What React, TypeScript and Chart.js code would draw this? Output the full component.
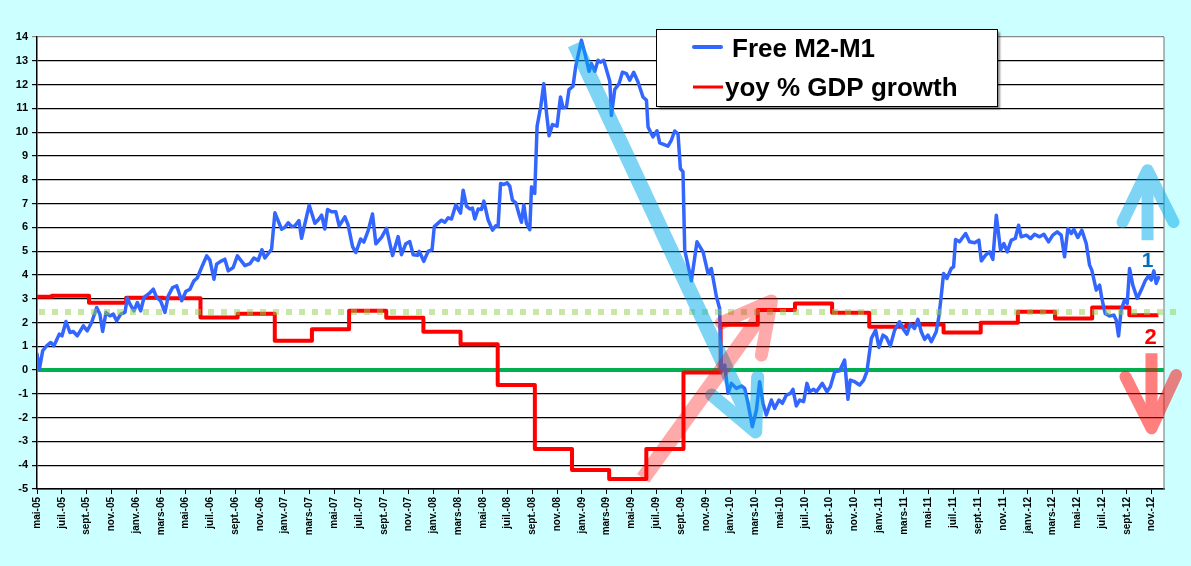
import React, { useEffect, useRef } from "react";
import { Chart, registerables } from "chart.js";

Chart.register(...registerables);

const FONT = "'Liberation Sans', Arial, sans-serif";

// X tick labels: one every two months, starting May 2005 (month offset 0)
const tickLabels = [
  "mai-05", "juil.-05", "sept.-05", "nov.-05",
  "janv.-06", "mars-06", "mai-06", "juil.-06", "sept.-06", "nov.-06",
  "janv.-07", "mars-07", "mai-07", "juil.-07", "sept.-07", "nov.-07",
  "janv.-08", "mars-08", "mai-08", "juil.-08", "sept.-08", "nov.-08",
  "janv.-09", "mars-09", "mai-09", "juil.-09", "sept.-09", "nov.-09",
  "janv.-10", "mars-10", "mai-10", "juil.-10", "sept.-10", "nov.-10",
  "janv.-11", "mars-11", "mai-11", "juil.-11", "sept.-11", "nov.-11",
  "janv.-12", "mars-12", "mai-12", "juil.-12", "sept.-12", "nov.-12",
];

// Free M2-M1: month offset from May 2005, and value
const m2m1Months = [
  0, 0.19, 0.46, 0.78, 1.11, 1.37, 1.8, 2.02, 2.34, 2.66,
  2.93, 3.25, 3.74, 4.06, 4.41, 4.82, 5.08, 5.3, 5.57, 5.89,
  6.16, 6.43, 6.76, 7.1, 7.29, 7.51, 7.83, 8.1, 8.37, 8.64,
  9.06, 9.39, 9.66, 9.98, 10.33, 10.6, 10.95, 11.28, 11.68, 12.03,
  12.35, 12.67, 12.94, 13.29, 13.7, 13.96, 14.29, 14.5, 14.83, 15.17,
  15.44, 15.84, 16.18, 16.79, 17.19, 17.51, 17.86, 18.16, 18.4, 18.94,
  19.21, 19.75, 20.02, 20.28, 20.56, 20.82, 21.15, 21.36, 21.98, 22.44,
  22.7, 22.98, 23.24, 23.46, 23.79, 24.13, 24.4, 24.86, 25.12, 25.48,
  25.75, 26.13, 26.39, 26.74, 27.09, 27.36, 27.82, 28.22, 28.71, 29.16,
  29.43, 29.78, 30.1, 30.37, 30.73, 30.86, 31.23, 31.58, 31.9, 32.08,
  32.66, 32.93, 33.2, 33.47, 33.82, 34.2, 34.41, 34.68, 34.95, 35.16,
  35.35, 35.62, 35.89, 36.08, 36.42, 36.78, 37.05, 37.23, 37.43, 37.69,
  37.96, 38.17, 38.39, 38.66, 38.93, 39.12, 39.31, 39.52, 39.79, 39.93,
  40.19, 40.38, 40.68, 40.92, 41.14, 41.35, 41.62, 41.99, 42.27, 42.48,
  42.75, 42.96, 43.28, 43.5, 43.96, 44.23, 44.58, 44.77, 45.04, 45.3,
  45.5, 45.76, 46.25, 46.38, 46.65, 47.0, 47.27, 47.59, 47.86, 48.18,
  48.53, 48.93, 49.21, 49.34, 49.74, 50.06, 50.28, 50.95, 51.22, 51.49,
  51.76, 51.95, 52.16, 52.3, 52.84, 53.29, 53.78, 54.18, 54.45, 54.86,
  55.12, 55.18, 55.26, 55.53, 55.8, 56.07, 56.47, 56.88, 57.14, 57.41,
  57.76, 58.09, 58.35, 58.62, 58.89, 59.3, 59.56, 59.91, 60.18, 60.51,
  60.83, 61.04, 61.31, 61.58, 61.9, 62.17, 62.39, 62.71, 62.93, 63.41,
  63.78, 64.06, 64.41, 64.81, 65.21, 65.48, 65.67, 66.02, 66.42, 66.75,
  67.01, 67.37, 67.72, 67.98, 68.31, 68.58, 68.9, 69.25, 69.65, 69.92,
  70.24, 70.51, 70.86, 71.13, 71.4, 71.67, 71.94, 72.21, 72.61, 72.82,
  73.02, 73.2, 73.47, 73.82, 74.01, 74.17, 74.49, 74.98, 75.3, 75.71,
  76.05, 76.25, 76.59, 76.92, 77.18, 77.46, 77.8, 78.07, 78.34, 78.67,
  78.99, 79.26, 79.47, 79.88, 80.23, 80.55, 80.95, 81.3, 81.68, 82.02,
  82.38, 82.7, 82.97, 83.24, 83.51, 83.72, 84.04, 84.37, 84.72, 84.99,
  85.17, 85.53, 85.8, 85.98, 86.25, 86.6, 86.95, 87.14, 87.33, 87.54,
  87.81, 88.03, 88.22, 88.48, 88.84, 89.16, 89.48, 89.75, 89.97, 90.18,
  90.37, 90.56,
];
const m2m1Values = [
  0.67, 0.04, 0.81, 1.02, 1.16, 1.02, 1.51, 1.44, 2.04, 1.58,
  1.62, 1.44, 1.86, 1.65, 2.0, 2.63, 2.35, 1.62, 2.42, 2.28,
  2.35, 2.07, 2.35, 2.42, 3.03, 2.77, 2.49, 2.84, 2.49, 3.05,
  3.22, 3.4, 3.05, 2.91, 2.42, 3.12, 3.47, 3.54, 2.91, 3.31,
  3.4, 3.75, 3.87, 4.31, 4.8, 4.62, 3.82, 4.45, 4.57, 4.66,
  4.17, 4.31, 4.8, 4.39, 4.47, 4.71, 4.61, 5.06, 4.71, 5.08,
  6.61, 5.92, 6.0, 6.19, 6.03, 6.06, 6.28, 5.54, 6.93, 6.17,
  6.31, 6.51, 5.93, 6.75, 6.65, 6.65, 6.06, 6.44, 6.1, 5.19,
  4.94, 5.51, 5.38, 5.86, 6.56, 5.31, 5.58, 5.96, 4.81, 5.61,
  4.85, 5.31, 5.4, 4.85, 4.82, 4.99, 4.57, 4.99, 5.06, 6.03,
  6.3, 6.21, 6.4, 6.35, 6.95, 6.6, 7.56, 6.89, 6.77, 6.81,
  6.35, 6.77, 6.75, 7.1, 6.32, 5.88, 6.07, 6.04, 7.84, 7.8,
  7.87, 7.73, 7.14, 7.03, 6.53, 6.21, 6.95, 6.16, 5.9, 7.7,
  7.42, 10.25, 11.09, 12.04, 10.81, 9.85, 10.32, 10.25, 11.48, 11.02,
  11.06, 11.79, 11.93, 12.77, 13.86, 13.33, 12.56, 12.88, 12.56, 13.02,
  12.94, 13.02, 12.14, 10.7, 11.79, 12.04, 12.52, 12.46, 12.18, 12.52,
  12.11, 11.48, 11.34, 10.22, 9.8, 10.06, 9.55, 9.41, 9.66, 10.05,
  9.92, 8.47, 8.33, 5.04, 3.75, 5.39, 4.97, 4.06, 4.27, 3.08,
  2.59, 1.26, 0.07, 0.21, -0.98, -0.56, -0.77, -0.67, -0.77, -1.4,
  -2.38, -1.68, -0.49, -1.4, -1.89, -1.26, -1.61, -1.26, -1.4, -1.05,
  -0.98, -0.81, -1.51, -1.26, -1.33, -0.56, -0.91, -0.81, -0.91, -0.56,
  -0.91, -0.7, -0.07, -0.03, 0.42, -1.23, -0.42, -0.49, -0.63, -0.42,
  -0.07, 1.33, 1.68, 0.95, 1.47, 1.37, 1.01, 1.68, 2.03, 1.75,
  1.51, 1.93, 1.75, 2.13, 1.61, 1.29, 1.47, 1.19, 1.61, 2.24,
  3.15, 4.06, 3.85, 4.27, 4.34, 5.49, 5.39, 5.74, 5.39, 5.35,
  5.46, 4.59, 4.83, 4.97, 4.65, 6.51, 5.04, 5.32, 4.97, 5.46,
  5.53, 6.09, 5.6, 5.67, 5.53, 5.71, 5.6, 5.71, 5.39, 5.67,
  5.81, 5.67, 4.76, 5.95, 5.74, 5.91, 5.57, 5.88, 5.32, 4.41,
  4.2, 3.36, 3.57, 3.01, 2.38, 2.27, 2.31, 2.1, 1.43, 2.52,
  2.94, 2.8, 4.27, 3.57, 3.01, 3.36, 3.75, 3.95, 3.78, 4.17,
  3.64, 3.89,
];

// yoy % GDP growth: quarterly steps (month offset where each value starts)
const gdpStartMonths = [
  0, 1.2, 4.2, 7.2, 10.2, 13.2, 16.2, 19.2, 22.2, 25.2,
  28.2, 31.2, 34.2, 37.2, 40.2, 43.2, 46.2, 49.2, 52.2, 55.2,
  58.2, 61.2, 64.2, 67.2, 70.2, 73.2, 76.2, 79.2, 82.2, 85.2,
  88.2,
];
const gdpValues = [
  3.08, 3.12, 2.83, 3.04, 3.02, 2.21, 2.37, 1.23, 1.72, 2.49,
  2.2, 1.61, 1.08, -0.63, -3.32, -4.2, -4.58, -3.32, -0.1, 1.9,
  2.52, 2.8, 2.41, 1.82, 1.92, 1.58, 1.99, 2.45, 2.17, 2.63,
  2.3,
];
const gdpEndMonth = 90.55;

const zeroLine = 0;
const referenceLine = 2.44;

const legendItems = ["Free M2-M1", "yoy % GDP growth"];

// Annotation arrows in data coordinates [month, value]
const arrows = [
  { tail: [43.42, 13.7], tip: [58.03, -2.6], wings: [[54.48, -1.05], [58.19, -0.29]], color: "rgb(0,170,235)", alpha: 0.5, shaft: 15, wing: 13 },
  { tail: [48.94, -4.55], tip: [59.3, 2.9], wings: [[55.26, 1.99], [58.49, 0.63]], color: "rgb(255,0,0)", alpha: 0.33, shaft: 15, wing: 13 },
  { tail: [89.67, 5.46], tip: [89.67, 8.4], wings: [[87.65, 6.22], [91.77, 6.22]], color: "rgb(0,170,235)", alpha: 0.5, shaft: 12, wing: 12 },
  { tail: [89.99, 0.71], tip: [89.99, -2.45], wings: [[87.89, -0.28], [91.98, -0.21]], color: "rgb(255,0,0)", alpha: 0.5, shaft: 12, wing: 12 },
];
const markers = [
  { text: "1", at: [89.67, 4.33], color: "#0070C0", size: 21 },
  { text: "2", at: [89.91, 1.09], color: "#FF0000", size: 22 },
];

const overlayPlugin = {
  id: "overlay",
  beforeDraw(chart: any) {
    const { ctx, chartArea: a } = chart;
    ctx.save();
    ctx.fillStyle = "#FFFFFF";
    ctx.fillRect(a.left, a.top, a.right - a.left, a.bottom - a.top);
    ctx.restore();
  },
  beforeDatasetsDraw(chart: any) {
    const { ctx, chartArea: a, scales } = chart;
    const y0 = scales.y.getPixelForValue(zeroLine);
    ctx.save();
    ctx.strokeStyle = "#00B050";
    ctx.lineWidth = 4;
    ctx.beginPath();
    ctx.moveTo(a.left, y0);
    ctx.lineTo(a.right, y0);
    ctx.stroke();
    ctx.restore();
  },
  afterDatasetsDraw(chart: any) {
    const { ctx, chartArea: a, scales, canvas } = chart;
    const xs = scales.x;
    const ys = scales.y;
    ctx.save();
    // right border of plot area
    ctx.strokeStyle = "#888888";
    ctx.lineWidth = 1.2;
    ctx.beginPath();
    ctx.moveTo(a.right, a.top);
    ctx.lineTo(a.right, a.bottom);
    ctx.stroke();

    // dotted reference line
    const yr = ys.getPixelForValue(referenceLine);
    ctx.strokeStyle = "rgba(146,208,80,0.5)";
    ctx.lineWidth = 6;
    ctx.setLineDash([6, 7]);
    ctx.beginPath();
    ctx.moveTo(a.left + 2, yr);
    ctx.lineTo(a.right + 16, yr);
    ctx.stroke();
    ctx.setLineDash([]);
    ctx.restore();

    // arrows (drawn opaque offscreen, then composited with transparency)
    const r = chart.currentDevicePixelRatio || 1;
    const off = document.createElement("canvas");
    off.width = canvas.width;
    off.height = canvas.height;
    const o = off.getContext("2d")!;
    const px = (p: number[]) => [xs.getPixelForValue(p[0]), ys.getPixelForValue(p[1])];
    for (const ar of arrows) {
      o.setTransform(1, 0, 0, 1, 0, 0);
      o.clearRect(0, 0, off.width, off.height);
      o.setTransform(r, 0, 0, r, 0, 0);
      const [tx, ty] = px(ar.tail);
      const [hx, hy] = px(ar.tip);
      const dx = hx - tx, dy = hy - ty;
      const len = Math.hypot(dx, dy);
      const ex = hx - (dx / len) * 6, ey = hy - (dy / len) * 6;
      o.strokeStyle = ar.color;
      o.lineCap = "butt";
      o.lineWidth = ar.shaft;
      o.beginPath();
      o.moveTo(tx, ty);
      o.lineTo(ex, ey);
      o.stroke();
      const [w1x, w1y] = px(ar.wings[0]);
      const [w2x, w2y] = px(ar.wings[1]);
      o.lineCap = "round";
      o.lineJoin = "round";
      o.lineWidth = ar.wing;
      o.beginPath();
      o.moveTo(w1x, w1y);
      o.lineTo(hx, hy);
      o.lineTo(w2x, w2y);
      o.stroke();
      ctx.save();
      ctx.setTransform(1, 0, 0, 1, 0, 0);
      ctx.globalAlpha = ar.alpha;
      ctx.drawImage(off, 0, 0);
      ctx.restore();
    }

    // numbered markers
    ctx.save();
    ctx.textAlign = "center";
    ctx.textBaseline = "alphabetic";
    for (const m of markers) {
      ctx.font = `bold ${m.size}px ${FONT}`;
      ctx.fillStyle = m.color;
      const [mx, my] = px(m.at);
      ctx.fillText(m.text, mx, my);
    }
    ctx.restore();

    // legend box
    ctx.save();
    ctx.shadowColor = "rgba(0,0,0,0.45)";
    ctx.shadowOffsetX = 3;
    ctx.shadowOffsetY = 3;
    ctx.shadowBlur = 2;
    ctx.fillStyle = "#FFFFFF";
    ctx.fillRect(656, 29, 341, 77);
    ctx.restore();
    ctx.save();
    ctx.strokeStyle = "#000000";
    ctx.lineWidth = 1;
    ctx.strokeRect(656.5, 29.5, 341, 77);
    ctx.lineCap = "round";
    ctx.strokeStyle = "#3366FF";
    ctx.lineWidth = 4;
    ctx.beginPath();
    ctx.moveTo(694, 47);
    ctx.lineTo(721, 47);
    ctx.stroke();
    ctx.strokeStyle = "#FF0000";
    ctx.lineWidth = 3;
    ctx.lineCap = "butt";
    ctx.beginPath();
    ctx.moveTo(693, 87);
    ctx.lineTo(723, 87);
    ctx.stroke();
    ctx.fillStyle = "#000000";
    ctx.font = `bold 26px ${FONT}`;
    ctx.textAlign = "left";
    ctx.textBaseline = "alphabetic";
    ctx.fillText(legendItems[0], 732, 57);
    ctx.fillText(legendItems[1], 725, 96);
    ctx.restore();
  },
};

export default function App() {
  const ref = useRef<HTMLCanvasElement>(null);
  useEffect(() => {
    const m2m1Data = m2m1Months.map((m, i) => ({ x: m, y: m2m1Values[i] }));
    const gdpData = gdpStartMonths.map((m, i) => ({ x: m, y: gdpValues[i] }));
    gdpData.push({ x: gdpEndMonth, y: gdpValues[gdpValues.length - 1] });

    const chart = new Chart(ref.current as HTMLCanvasElement, {
      type: "line",
      data: {
        datasets: [
          {
            label: legendItems[0],
            data: m2m1Data,
            borderColor: "#3366FF",
            borderWidth: 3.5,
            pointRadius: 0,
            tension: 0,
            borderJoinStyle: "round",
            borderCapStyle: "round",
            fill: false,
          },
          {
            label: legendItems[1],
            data: gdpData,
            borderColor: "#FF0000",
            borderWidth: 4,
            pointRadius: 0,
            stepped: "before",
            borderJoinStyle: "round",
            fill: false,
          },
        ],
      },
      options: {
        animation: false,
        responsive: false,
        maintainAspectRatio: false,
        layout: { padding: { top: 37, right: 27, left: 0, bottom: 0 } },
        plugins: { legend: { display: false }, tooltip: { enabled: false } },
        scales: {
          x: {
            type: "linear",
            min: 0,
            max: 91,
            afterBuildTicks: (scale: any) => {
              scale.ticks = tickLabels.map((_, i) => ({ value: i * 2 }));
            },
            afterFit: (scale: any) => {
              scale.height = 77;
            },
            ticks: {
              autoSkip: false,
              minRotation: 90,
              maxRotation: 90,
              padding: 3,
              color: "#000000",
              font: { family: FONT, size: 10, weight: "bold" },
              callback: (_v: any, i: number) => tickLabels[i],
            },
            grid: { drawOnChartArea: false, drawTicks: true, tickLength: 5, color: "#000000", lineWidth: 1 },
            border: { color: "#000000", width: 1.5 },
          },
          y: {
            min: -5,
            max: 14,
            afterFit: (scale: any) => {
              scale.width = 37;
            },
            ticks: {
              stepSize: 1,
              padding: 4,
              color: "#000000",
              font: { family: FONT, size: 11, weight: "bold" },
            },
            grid: {
              color: (c: any) => (c.tick && c.tick.value === 14 ? "#888888" : "#000000"),
              lineWidth: 1.2,
              tickLength: 5,
            },
            border: { color: "#000000", width: 1.5 },
          },
        },
      },
      plugins: [overlayPlugin],
    } as any);
    return () => chart.destroy();
  }, []);

  return (
    <div style={{ position: "fixed", left: 0, top: 0, width: 1191, height: 566, background: "#CCFFFF" }}>
      <canvas ref={ref} width={1191} height={566} style={{ display: "block", width: 1191, height: 566 }} />
    </div>
  );
}
